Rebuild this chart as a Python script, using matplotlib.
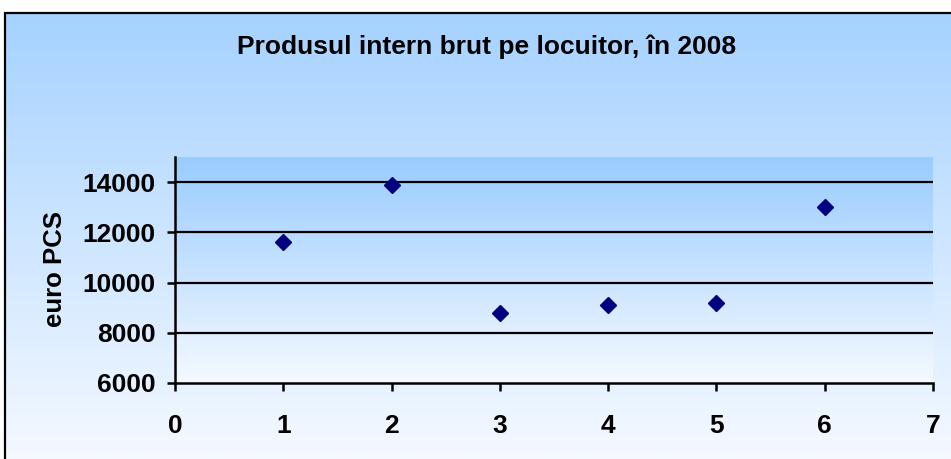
import numpy as np
import matplotlib
matplotlib.use("Agg")
import matplotlib.pyplot as plt
from matplotlib.colors import LinearSegmentedColormap
from matplotlib.patches import Rectangle

# Data
x_vals = [1, 2, 3, 4, 5, 6]
gdp_vals = [11600, 13900, 8800, 9100, 9200, 13000]
title = "Produsul intern brut pe locuitor, în 2008"
ylabel = "euro PCS"
xticks = [0, 1, 2, 3, 4, 5, 6, 7]
yticks = [6000, 8000, 10000, 12000, 14000]

plt.rcParams['font.family'] = ['Liberation Sans', 'DejaVu Sans']
plt.rcParams['font.weight'] = 'bold'

W, H = 951, 459
fig = plt.figure(figsize=(W / 100, H / 100), dpi=100)
fig.patch.set_facecolor('white')

cmap = LinearSegmentedColormap.from_list('bg', ['#99CCFF', '#F5F9FF'])
grad = np.linspace(0, 1, 256).reshape(-1, 1)

# Chart-area background with gradient and border
left_px, top_px = 5, 13
bx = left_px / W
btop = 1 - top_px / H
bg = fig.add_axes([bx, 0, 1 - bx, btop], zorder=-10)
bg.imshow(grad, aspect='auto', cmap=cmap, extent=[0, 1, 0, 1.15], origin='upper')
bg.set_xlim(0, 1)
bg.set_ylim(0, 1)
bg.axis('off')
fig.add_artist(Rectangle((bx, -0.1), 1.2, btop + 0.1, transform=fig.transFigure,
                         fill=False, edgecolor='black', linewidth=1.6, zorder=5))

# Plot area
pl, pr, pt, pb = 175, 933, 157, 383
ax = fig.add_axes([pl / W, 1 - pb / H, (pr - pl) / W, (pb - pt) / H])
ax.imshow(grad, aspect='auto', cmap=cmap, extent=[0, 7, 6000, 15000],
          origin='upper', zorder=0)
ax.set_xlim(0, 7)
ax.set_ylim(6000, 15000)

for yv in yticks[1:]:
    ax.axhline(yv, color='black', linewidth=1.6, zorder=1)

ax.plot(x_vals, gdp_vals, linestyle='none', marker='D', markersize=8.5,
        color='#000080', zorder=3, clip_on=False)

for s in ['top', 'right']:
    ax.spines[s].set_visible(False)
for s in ['left', 'bottom']:
    ax.spines[s].set_linewidth(1.8)
    ax.spines[s].set_color('black')

ax.set_xticks(xticks)
ax.set_yticks(yticks)
ax.set_xticklabels([str(v) for v in xticks], fontsize=19, fontweight='bold')
ax.set_yticklabels([str(v) for v in yticks], fontsize=19, fontweight='bold')
ax.tick_params(axis='both', direction='out', length=6, width=1.8, color='black')
ax.tick_params(axis='x', pad=16)
ax.tick_params(axis='y', pad=8)

fig.text(55 / W, 1 - 269 / H, ylabel, rotation=90, ha='center', va='center',
         fontsize=18.5, fontweight='bold')
fig.text(487 / W, 1 - 47 / H, title, ha='center', va='center',
         fontsize=19, fontweight='bold')

fig.savefig('out.png', dpi=100, facecolor='white')
